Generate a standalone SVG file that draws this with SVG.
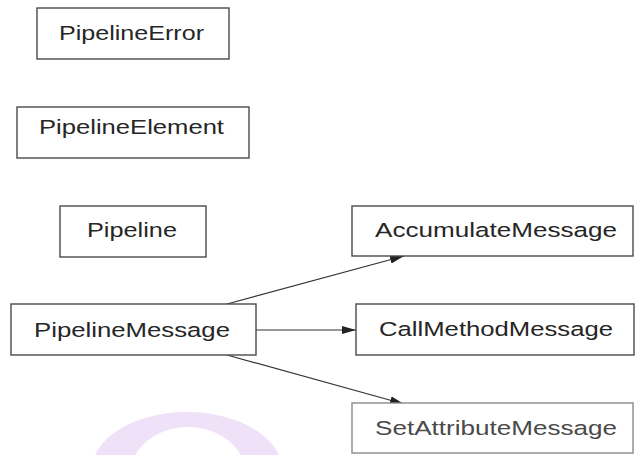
<svg xmlns="http://www.w3.org/2000/svg" width="635" height="455" viewBox="0 0 635 455">
  <defs>
    <style>
      .box { fill: #ffffff; stroke: #4a4a4a; stroke-width: 1.4; }
      .box.faint { stroke: #8a8a8a; }
      .label { font-family: "Liberation Sans", Arial, sans-serif; font-size: 20.5px; fill: #262626; }
      .label.faint { fill: #4a4a4a; }
      .edge { stroke: #333333; stroke-width: 1.2; fill: none; marker-end: url(#arrow); }
    </style>
    <marker id="arrow" viewBox="0 0 14 8" refX="14" refY="4" markerWidth="14" markerHeight="8" markerUnits="userSpaceOnUse" orient="auto">
      <path d="M0,0 L14,4 L0,8 Z" fill="#222222"/>
    </marker>
  </defs>

  <rect width="635" height="455" fill="#ffffff"/>

  <!-- lavender arc in the lower left -->
  <path fill-rule="evenodd" fill="#efe1f8"
        d="M92,470 A95,58 0 0 1 282,470 A95,58 0 0 1 92,470 Z
           M130,475 A58,48 0 0 1 246,475 A58,48 0 0 1 130,475 Z"/>

  <g id="connectors">
    <line class="edge" x1="227" y1="304" x2="404" y2="256"/>
    <line class="edge" x1="256" y1="330" x2="356" y2="330"/>
    <line class="edge" x1="227" y1="355" x2="404" y2="404"/>
  </g>

  <g id="PipelineError">
    <rect class="box" x="37" y="8" width="192" height="51"/>
    <text class="label" x="59" y="40" textLength="145" lengthAdjust="spacingAndGlyphs">PipelineError</text>
  </g>

  <g id="PipelineElement">
    <rect class="box" x="17" y="107" width="232" height="51"/>
    <text class="label" x="39" y="134" textLength="185" lengthAdjust="spacingAndGlyphs">PipelineElement</text>
  </g>

  <g id="Pipeline">
    <rect class="box" x="60" y="206" width="146" height="51"/>
    <text class="label" x="87" y="237" textLength="90" lengthAdjust="spacingAndGlyphs">Pipeline</text>
  </g>

  <g id="PipelineMessage">
    <rect class="box" x="11" y="304" width="245" height="51"/>
    <text class="label" x="34" y="337" textLength="196" lengthAdjust="spacingAndGlyphs">PipelineMessage</text>
  </g>

  <g id="AccumulateMessage">
    <rect class="box" x="352" y="206" width="281" height="50"/>
    <text class="label" x="375" y="237" textLength="242" lengthAdjust="spacingAndGlyphs">AccumulateMessage</text>
  </g>

  <g id="CallMethodMessage">
    <rect class="box" x="356" y="304" width="278" height="51"/>
    <text class="label" x="379" y="336" textLength="234" lengthAdjust="spacingAndGlyphs">CallMethodMessage</text>
  </g>

  <g id="SetAttributeMessage">
    <rect class="box faint" x="352" y="403" width="281" height="50"/>
    <text class="label faint" x="375" y="435" textLength="242" lengthAdjust="spacingAndGlyphs">SetAttributeMessage</text>
  </g>
</svg>
